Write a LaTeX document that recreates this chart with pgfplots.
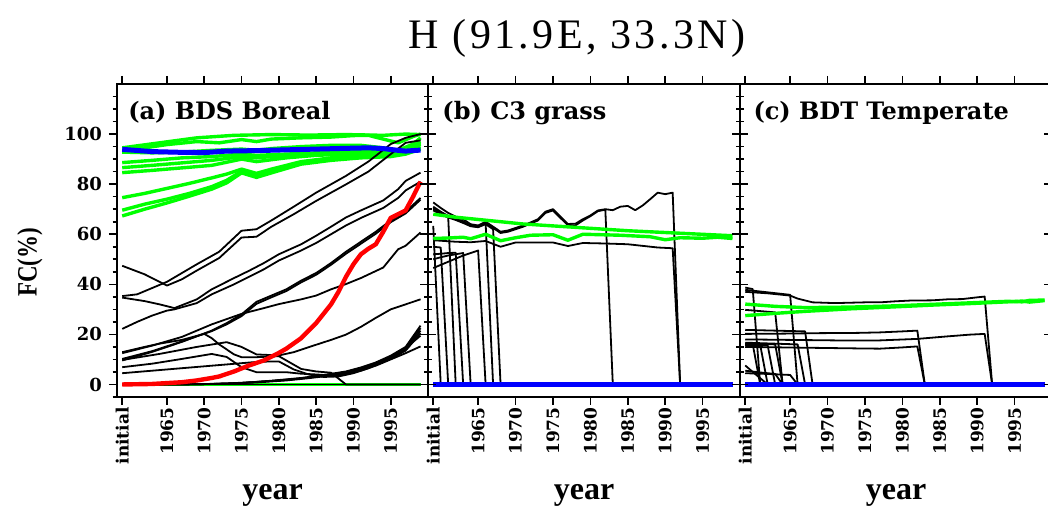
\documentclass[border=0pt]{standalone}
\usepackage{pgfplots}
\pgfplotsset{compat=1.18}
\usepackage{fontspec}
\setmainfont{Liberation Serif}
\newfontfamily\dvs{DejaVu Serif}
\newfontfamily\titlefont[LetterSpace=8]{Liberation Serif}
\definecolor{ngreen}{RGB}{0,255,0}
\definecolor{nred}{RGB}{255,0,0}
\definecolor{nblue}{RGB}{0,0,255}
\tikzset{plab/.style={anchor=base west, inner sep=0pt, font=\dvs\bfseries\fontsize{12}{14}\selectfont}}
\pgfplotsset{
  base/.style={scale only axis, width=156pt, height=156.5pt,
    xmin=-0.7, xmax=41, ymin=-5, ymax=120,
    axis line style={line width=1.4pt},
    major tick length=4pt, minor tick length=2.2pt,
    every tick/.append style={line width=0.8pt, black},
    /pgf/number format/assume math mode=true},
  main/.style={base,
    xtick={0,6,11,16,21,26,31,36},
    xticklabels={initial,1965,1970,1975,1980,1985,1990,1995},
    xtick pos=both, xticklabel pos=lower, tick align=outside,
    xticklabel style={rotate=90, anchor=east, font=\dvs\bfseries\fontsize{8.5}{9}\selectfont, inner sep=1pt},
    xlabel={year},
    xlabel style={font=\bfseries\fontsize{16}{18}\selectfont, at={(axis description cs:0.5,-0.329)}, anchor=base},
    no markers},
  ov/.style={base, xtick=\empty, ytick={0,20,40,60,80,100}, minor ytick={-5,0,...,115},
    tick align=inside, yticklabel style={opacity=0, text opacity=0}},
  blk/.style={black, line width=0.9pt, line join=round},
  grn/.style={ngreen, line width=1.7pt, line join=round},
  rd/.style={nred, line width=2.2pt, line join=round},
  bl/.style={nblue, line width=2.5pt, line join=round},
}
\begin{document}
\begin{tikzpicture}
\useasboundingbox (0,0) rectangle (524pt,253.5pt);
\node[anchor=base, font=\titlefont\fontsize{21}{24}\selectfont] at (288.5pt,229pt) {H (91.9E, 33.3N)};
% ---------------- panel a
\begin{axis}[main, at={(58.5pt,55pt)}, width=155.5pt,
  ytick={0,20,40,60,80,100}, minor ytick={-5,0,...,115}, ytick pos=left,
  yticklabel style={font=\dvs\bfseries\fontsize{9}{10}\selectfont},
  ylabel={\scalebox{0.82}[1]{FC(\%)}},
  ylabel style={font=\bfseries\fontsize{14}{16}\selectfont, at={(axis description cs:-0.28,0.43)}, anchor=center}]
\addplot[ngreen, line width=1.3pt] coordinates {(0,0) (40,0)};
\addplot[grn] coordinates {(0,94.5) (5,96.5) (10,98.5) (15,99.5) (20,99.8) (25,99.6) (30,99.8) (35,99.5) (38,100) (40,99.8)};
\addplot[grn] coordinates {(0,93.5) (3,94.5) (6,95.8) (10,97) (13,96.5) (16,97.8) (18,97) (20,98) (24,98.5) (28,98.8) (31,99.4) (33,99.5) (35,98) (37,96.5) (39,99) (40,100)};
\addplot[grn] coordinates {(0,92.8) (4,92.5) (8,92.8) (12,93.5) (16,94) (18,93.5) (20,94.2) (24,95) (28,95.5) (32,95.5) (35,94.5) (37,93.5) (39,96) (40,98.5)};
\addplot[grn] coordinates {(0,88.6) (4,89.5) (8,90.5) (12,91) (16,92) (18,91.5) (22,92) (26,92.5) (30,93) (34,93) (37,93) (40,97)};
\addplot[grn] coordinates {(0,86.6) (4,87.5) (8,88.5) (12,89.5) (16,91) (18,90.5) (22,91.5) (26,92) (30,92.5) (34,92.5) (37,92.5) (40,96.5)};
\addplot[grn] coordinates {(0,84.6) (4,85.5) (8,86.5) (12,87.5) (16,90) (18,89) (22,90.5) (26,91.5) (30,92) (34,92) (37,92) (40,96)};
\addplot[grn] coordinates {(0,74.6) (3,76.3) (6,78.3) (9,80.3) (12,82.5) (14,84) (16,86) (18,84.3) (20,86) (24,89) (28,90.5) (32,91.5) (36,92) (38,93) (40,95)};
\addplot[grn] coordinates {(0,69.6) (3,72) (6,74) (9,76.3) (12,79) (14,81.5) (16,85.2) (18,83.3) (20,85) (24,88.5) (28,90) (32,91) (36,91.5) (38,92.5) (40,94.5)};
\addplot[grn] coordinates {(0,67.3) (3,70) (6,72.5) (9,75.2) (12,78) (14,80.5) (16,84.5) (18,82.7) (20,84.5) (24,88) (28,89.5) (32,90.5) (36,91) (38,92) (40,94)};
\addplot[blk] coordinates {(0,47.4) (3,44) (6,39.5) (8,42) (10,45.5) (13,50.5) (16,58.7) (18,59) (20,63) (23,68) (26,73.3) (30,79.9) (33,85) (36,92) (38,96.5) (40,97.5)};
\addplot[blk] coordinates {(0,35.3) (2,36) (4,38.5) (6,41) (8,44.5) (10,48) (13,53) (16,61.4) (18,62) (20,65.5) (23,71) (26,76.6) (30,83.3) (33,89) (36,96) (38,98.5) (40,100)};
\addplot[blk] coordinates {(0,34.7) (3,33.3) (5,32) (7,30.5) (10,34) (12,38) (15,42.5) (17,45.4) (19,48.5) (21,52) (24,56) (26,59.4) (28,63) (30,66.7) (32,69.5) (35,73.5) (37,78) (38,81.3) (40,84.6)};
\addplot[blk] coordinates {(0,22.2) (2,25) (4,27.5) (6,29.5) (7,30) (10,32.5) (12,36) (15,40) (17,43) (19,46) (21,49.5) (24,53.5) (26,56.5) (28,60) (30,63.5) (32,66.5) (35,70.5) (37,74.5) (38,77.5) (40,81)};
\addplot[blk] coordinates {(0,9.6) (4,13) (8,17) (12,21.5) (14,24.5) (16,28) (18,33) (20,35.5) (22,38) (24,41.5) (26,44.5) (28,48.5) (30,53) (32,57) (34,61) (36,65.5) (38,69) (40,74.5)};
\addplot[blk] coordinates {(0,10.2) (4,13.3) (8,17.2) (12,21.3) (14,24) (16,27.3) (18,32.2) (20,34.8) (22,37.3) (24,40.8) (26,43.8) (28,47.8) (30,52.2) (32,56.2) (34,60.2) (36,64.8) (38,68.3) (40,73.8)};
\addplot[blk] coordinates {(0,12.5) (4,15.5) (8,19) (12,24) (16,28.2) (19,30.5) (21,32.1) (24,34) (26,35.5) (28,38) (30,40.1) (32,42.5) (35,46.7) (37,54) (38,55.4) (40,60.7)};
\addplot[blk] coordinates {(0,12.9) (3,15) (5,16.3) (8,17.8) (11,20.2) (12,18.5) (13,16) (15,12) (16,10.9) (18,10.9) (21,11.3) (22,9.6) (24,6.2) (26,5.2) (28,4.7) (30,0) (40,0)};
\addplot[blk] coordinates {(0,9.8) (5,12.2) (10,15) (14,16.9) (16,15) (18,12) (21,11.6) (23,12.9) (25,14.9) (28,17.8) (30,19.9) (32,23) (34,26.6) (36,30) (38,32) (40,34)};
\addplot[blk] coordinates {(0,6.9) (4,8.3) (8,10.2) (12,12.2) (14,11) (16,6.9) (18,4.9) (22,4.9) (24,4.3) (26,4) (28,3.6) (30,4) (32,5.5) (34,7.5) (36,10) (38,12.5) (40,15.2)};
\addplot[blk] coordinates {(0,4.5) (4,5.5) (8,6.5) (12,7.5) (16,8.5) (18,9) (20,9.2) (21,9.2) (23,6) (25,4) (27,3) (29,3.2) (31,4.5) (33,6.5) (35,9) (37,12.5) (39,17) (40,19.5)};
\addplot[blk] coordinates {(0,0) (8,0) (12,0.2) (16,0.6) (20,1.5) (24,2.6) (27,3.8) (30,5.2) (32,6.8) (34,8.8) (36,11.5) (38,15) (40,23.5)};
\addplot[blk] coordinates {(0,0) (8,0) (12,0.2) (16,0.6) (20,1.4) (24,2.4) (27,3.6) (30,5) (32,6.5) (34,8.5) (36,11) (38,14.5) (40,22.5)};
\addplot[blk] coordinates {(0,0) (10,0.1) (14,0.4) (18,1) (22,1.8) (25,2.8) (28,4) (30,4.8) (32,6.2) (34,8.2) (36,10.7) (38,14) (40,21.5)};
\addplot[blk] coordinates {(0,0) (10,0.1) (14,0.3) (18,0.8) (22,1.6) (25,2.5) (28,3.6) (30,4.5) (32,5.8) (34,7.8) (36,10.2) (38,13.5) (40,20.5)};
\addplot[blk] coordinates {(0,0) (40,0)};
\addplot[rd] coordinates {(0,0) (4,0.2) (8,0.9) (10,1.6) (12,2.6) (13,3.2) (15,5.2) (17,7.6) (19,9.6) (21,12.6) (22,14.3) (24,18.5) (26,24.5) (28,32) (29,37) (30,43) (31,48) (32,52) (33,54.2) (34,56) (35,61) (36,66.5) (37,68) (38,69.5) (39,75) (40,81)};
\addplot[bl] coordinates {(0,93.9) (4,93) (8,92.7) (11,92.6) (14,93.2) (18,93.4) (22,93.7) (26,94) (30,94.3) (33,94.5) (35,94.2) (37,93.5) (38,93.2) (40,93.6)};
\node[plab] at (rel axis cs:0.035,0.885) {(a) BDS Boreal};
\end{axis}
\begin{axis}[ov, at={(58.5pt,55pt)}, width=155.5pt, ytick pos=right]
\end{axis}
% ---------------- panel b
\begin{axis}[main, at={(214pt,55pt)}, ytick=\empty]
\addplot[blk] coordinates {(0,72.7) (1,70.5) (2,68.5) (3,67) (4,66) (5,64) (6,63.5) (7,65) (8,63) (9,61) (10,61.5) (11,62.5) (12,63.5) (13,64.7) (14,66) (15,69) (16,70) (17,67) (18,64.1) (19,64.2) (20,66) (21,67.5) (22,69.5) (23,70) (24,69.6) (25,71) (26,71.3) (27,69.6) (28,71.5) (29,74) (30,76.6) (31,76) (32,76.6) (33,0) (40,0)};
\addplot[blk] coordinates {(0,71) (1,69) (2,67.3) (3,66.3) (4,65.2) (5,63.3) (6,63) (7,64.3) (8,62.5) (9,60.5) (10,61) (11,62) (12,63) (13,64.2) (14,65.5) (15,68.5) (16,69.5) (17,66.5) (18,63.6) (19,63.5) (20,65.5) (21,67.2) (22,69.2) (23,69.8) (24,0) (40,0)};
\addplot[blk] coordinates {(0,57.6) (3,57) (5,56.8) (7,57.3) (9,55) (11,56.7) (14,56.7) (16,56.7) (18,55.3) (20,56.5) (23,56.3) (26,56) (30,54.7) (32,54.4) (33,0) (40,0)};
\addplot[blk] coordinates {(0,63.3) (1,0)};
\addplot[blk] coordinates {(0,55) (1,54.7) (2,0)};
\addplot[blk] coordinates {(0,70) (1,68) (2,66.8) (3,0)};
\addplot[blk] coordinates {(0,52) (1,52.2) (2,52.5) (3,52.6) (4,0)};
\addplot[blk] coordinates {(0,50) (1,50.8) (2,51.5) (3,52) (4,52.5) (5,0)};
\addplot[blk] coordinates {(0,46.5) (2,49) (4,51.5) (5,52.5) (6,53.5) (7,0)};
\addplot[blk] coordinates {(0,70.5) (1,68.5) (2,67) (3,66.2) (4,64.8) (5,63.5) (6,63) (7,64.5) (8,0)};
\addplot[blk] coordinates {(0,69.5) (1,68) (2,66.7) (3,65.7) (4,64.5) (5,63.2) (6,62.8) (7,64) (8,62) (9,0)};
\addplot[grn] coordinates {(0,68) (3,66.8) (12,64.1) (26,61.4) (40,59.4)};
\addplot[grn] coordinates {(0,58.3) (2,58.5) (4,58.8) (5,58.2) (7,60) (9,57.4) (11,58.6) (13,59.6) (16,59.8) (18,57.6) (20,60) (25,59.6) (29,59) (31,57.8) (33,58.6) (36,58.4) (38,58.8) (40,58.3)};
\addplot[bl] coordinates {(0,0) (40,0)};
\node[plab] at (rel axis cs:0.045,0.885) {(b) C3 grass};
\end{axis}
\begin{axis}[ov, at={(214pt,55pt)}, ytick pos=both]
\end{axis}
% ---------------- panel c
\begin{axis}[main, at={(370pt,55pt)}, ytick=\empty]
\addplot[blk] coordinates {(0,37) (3,36.4) (6,35.5) (7,34.3) (9,32.8) (12,32.5) (16,32.8) (18,32.8) (20,33.2) (22,33.5) (25,33.6) (27,34) (29,34.1) (31,34.8) (32,35.1) (33,0) (40,0)};
\addplot[blk] coordinates {(0,20.2) (5,20.3) (10,20.5) (15,20.6) (18,20.8) (21,21.2) (23,21.5) (24,0) (40,0)};
\addplot[blk] coordinates {(0,18) (6,17.8) (12,17.6) (18,17.6) (23,18.2) (27,19.2) (30,19.9) (32,20.2) (33,0) (40,0)};
\addplot[blk] coordinates {(0,15) (5,14.8) (10,14.6) (15,14.4) (18,14.3) (21,14.8) (23,15.2) (24,0) (40,0)};
\addplot[blk] coordinates {(0,38.7) (1,38.1) (2,0)};
\addplot[blk] coordinates {(0,37.8) (3,36.8) (6,35.8) (7,0)};
\addplot[blk] coordinates {(0,29.8) (2,29.3) (4,28.8) (5,0)};
\addplot[blk] coordinates {(0,21.8) (4,21.5) (8,21.2) (9,0)};
\addplot[blk] coordinates {(0,16.7) (4,16.3) (7,16) (8,0)};
\addplot[blk] coordinates {(0,16.2) (1,16.1) (2,0)};
\addplot[blk] coordinates {(0,15.9) (2,15.8) (3,0)};
\addplot[blk] coordinates {(0,15.6) (3,15.6) (4,0)};
\addplot[blk] coordinates {(0,16.4) (4,16) (5,0)};
\addplot[blk] coordinates {(0,7.6) (1,5) (2,2.5) (3,0)};
\addplot[blk] coordinates {(0,4.5) (3,4.2) (6,3.8) (7,0)};
\addplot[blk] coordinates {(0,5.5) (2,4.8) (4,4.2) (5,0)};
\addplot[grn] coordinates {(0,32.1) (4,31.2) (8,30.7) (14,30.9) (20,31.4) (25,32) (30,32.6) (35,33.2) (37,33) (38,33.6) (40,33.7)};
\addplot[grn] coordinates {(0,27.5) (4,28.4) (8,29.2) (14,30.2) (20,31) (25,31.7) (30,32.3) (35,33) (37,33.3) (38,32.9) (40,33.5)};
\addplot[bl] coordinates {(0,0) (40,0)};
\node[plab] at (rel axis cs:0.042,0.885) {(c) BDT Temperate};
\end{axis}
\begin{axis}[ov, at={(370pt,55pt)}, ytick pos=both]
\end{axis}
\end{tikzpicture}
\end{document}
